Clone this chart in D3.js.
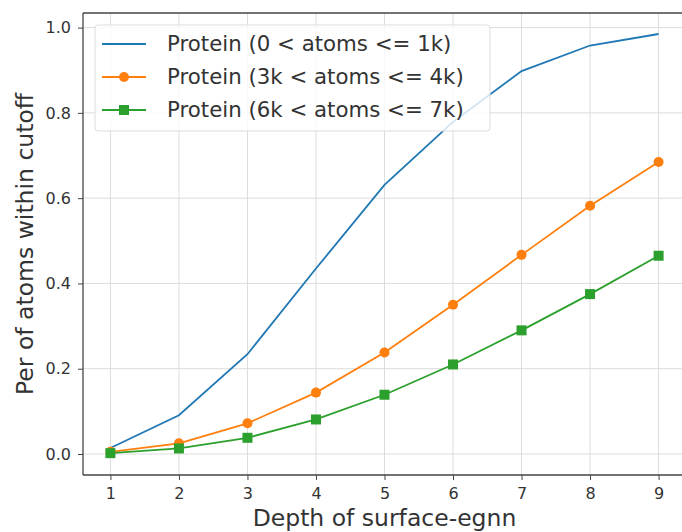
<!DOCTYPE html>
<html>
<head>
<meta charset="utf-8">
<script src="https://cdn.jsdelivr.net/npm/d3@7/dist/d3.min.js"></script>
<style>
  body { margin: 0; background: #fff; }
  text { font-family: "DejaVu Sans", sans-serif; }
</style>
</head>
<body>
<div id="container"></div>
<script>
// data
var depths = [1, 2, 3, 4, 5, 6, 7, 8, 9];
var small  = [0.014, 0.091, 0.234, 0.435, 0.631, 0.779, 0.898, 0.958, 0.985];
var mid    = [0.005, 0.025, 0.072, 0.144, 0.238, 0.350, 0.467, 0.582, 0.685];
var large  = [0.002, 0.013, 0.038, 0.081, 0.139, 0.210, 0.290, 0.375, 0.465];
var seriesNames = ["Protein (0 < atoms <= 1k)", "Protein (3k < atoms <= 4k)", "Protein (6k < atoms <= 7k)"];
var yTicks = [0.0, 0.2, 0.4, 0.6, 0.8, 1.0];

// margins
var margin = { top: 13, right: -4, bottom: 57, left: 83 },
	width = 682 - margin.left - margin.right,
	height = 532 - margin.top - margin.bottom;

var svg = d3.select("#container").append("svg")
	.attr("width", 682)
	.attr("height", 532)
  .append("g")
	.attr("transform", "translate(" + margin.left + "," + margin.top + ")");

// scales with matplotlib style 5% padding
var x = d3.scaleLinear().domain([0.6, 9.4]).range([0, width]);
var y = d3.scaleLinear().domain([-0.04925, 1.03425]).range([height, 0]);

// grid
svg.append("g").selectAll("line").data(depths).enter().append("line")
	.attr("x1", function(d) { return x(d); }).attr("x2", function(d) { return x(d); })
	.attr("y1", 0).attr("y2", height)
	.style("stroke", "#dcdcdc").style("stroke-width", 1);
svg.append("g").selectAll("line").data(yTicks).enter().append("line")
	.attr("y1", function(d) { return y(d); }).attr("y2", function(d) { return y(d); })
	.attr("x1", 0).attr("x2", width)
	.style("stroke", "#dcdcdc").style("stroke-width", 1);

// axes
var xAxis = svg.append("g")
	.attr("transform", "translate(0," + height + ")")
	.call(d3.axisBottom(x).tickValues(depths).tickFormat(d3.format("d")).tickSize(5).tickPadding(8));
var yAxis = svg.append("g")
	.call(d3.axisLeft(y).tickValues(yTicks).tickFormat(d3.format(".1f")).tickSize(5).tickPadding(7));
[xAxis, yAxis].forEach(function(a) {
	a.select(".domain").remove();
	a.selectAll("line").style("stroke", "#444");
	a.selectAll("text").style("font-size", "16px").style("fill", "#333")
		.style("font-family", "DejaVu Sans");
});

// spines
svg.append("line").attr("x1", 0).attr("x2", 0).attr("y1", 0).attr("y2", height)
	.style("stroke", "#444").style("stroke-width", 1.3);
svg.append("line").attr("x1", 0).attr("x2", width).attr("y1", height).attr("y2", height)
	.style("stroke", "#444").style("stroke-width", 1.3);
svg.append("line").attr("x1", 0).attr("x2", width).attr("y1", 0).attr("y2", 0)
	.style("stroke", "#444").style("stroke-width", 1.3);

// lines
var colors = ["#1f77b4", "#ff7f0e", "#2ca02c"];
var allSeries = [small, mid, large];
allSeries.forEach(function(vals, i) {
	var line = d3.line()
		.x(function(d, j) { return x(depths[j]); })
		.y(function(d) { return y(d); });
	svg.append("path")
		.datum(vals)
		.attr("d", line)
		.style("fill", "none")
		.style("stroke", colors[i])
		.style("stroke-width", 1.8);
});

// markers
svg.append("g").selectAll("circle").data(mid).enter().append("circle")
	.attr("cx", function(d, j) { return x(depths[j]); })
	.attr("cy", function(d) { return y(d); })
	.attr("r", 5)
	.style("fill", colors[1]);
svg.append("g").selectAll("rect").data(large).enter().append("rect")
	.attr("x", function(d, j) { return x(depths[j]) - 5; })
	.attr("y", function(d) { return y(d) - 5; })
	.attr("width", 10).attr("height", 10)
	.style("fill", colors[2]);

// legend
var legend = svg.append("g").attr("transform", "translate(12,12)");
legend.append("rect")
	.attr("width", 395).attr("height", 106).attr("rx", 3)
	.style("fill", "#fff").style("fill-opacity", 0.8)
	.style("stroke", "#ddd");
seriesNames.forEach(function(name, i) {
	var cy = 19 + i * 33;
	legend.append("line").attr("x1", 7).attr("x2", 51).attr("y1", cy).attr("y2", cy)
		.style("stroke", colors[i]).style("stroke-width", 1.8);
	if (i == 1) legend.append("circle").attr("cx", 29).attr("cy", cy).attr("r", 5).style("fill", colors[i]);
	if (i == 2) legend.append("rect").attr("x", 24).attr("y", cy - 5).attr("width", 10).attr("height", 10).style("fill", colors[i]);
	legend.append("text").attr("x", 72).attr("y", cy).attr("dy", "0.35em")
		.style("font-size", "21.3px").style("fill", "#333").text(name);
});

// axis labels
svg.append("text")
	.attr("x", (x(0.6) + x(9.4)) / 2).attr("y", height + 51)
	.style("text-anchor", "middle").style("font-size", "23.5px").style("fill", "#333")
	.text("Depth of surface-egnn");
svg.append("text")
	.attr("transform", "rotate(-90)")
	.attr("x", -height / 2).attr("y", -50)
	.style("text-anchor", "middle").style("font-size", "23.5px").style("fill", "#333")
	.text("Per of atoms within cutoff");
</script>
</body>
</html>
